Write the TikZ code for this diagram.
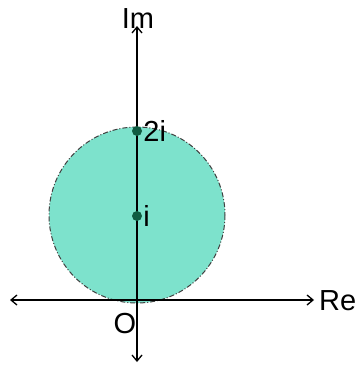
\documentclass[tikz,border=0pt]{standalone}
\usepackage{fontspec}
\setmainfont{Liberation Sans}
\usepackage{tikz}
\usetikzlibrary{arrows.meta,positioning,calc}
\definecolor{discfill}{RGB}{125,226,204}
\definecolor{dotgreen}{RGB}{16,92,66}

\begin{document}
\begin{tikzpicture}[
    x=1pt,y=-1pt,
    every node/.style={font=\fontsize{29}{32}\selectfont,inner sep=0pt},
    axis/.style={draw,line width=1.3pt,-{Straight Barb[length=6pt,width=10pt]}},
    dot/.style={circle,fill=dotgreen,minimum size=10pt,inner sep=0pt}
]
\useasboundingbox (0,0) rectangle (363,366);
% disc
\fill[discfill] (137,215) circle (88);
\draw[line width=1pt,black!75,dash pattern=on 5pt off 2pt on 1pt off 2pt] (137,215) circle (88);
% axes
\coordinate (o) at (137,300);
\coordinate (xl) at (10,300);
\coordinate (xr) at (314,300);
\coordinate (yb) at (137,362);
\coordinate (yt) at (137,26);
\draw[axis] (o) -- (xl);
\draw[axis] (o) -- (xr);
\draw[axis] (o) -- (yb);
\draw[axis] (o) -- (yt);
% labels
\node[anchor=west]  (re) at (319,301) {Re};
\node               (im) at (138,19)  {Im};
\node               (O)  at (125,324) {O};
\node[dot] (p2) at (137,131) {};
\node[dot] (p1) at (137,216) {};
\node[right=1pt of p2] (l2) {2i};
\node[right=1pt of p1] (l1) {i};
\end{tikzpicture}
\end{document}
